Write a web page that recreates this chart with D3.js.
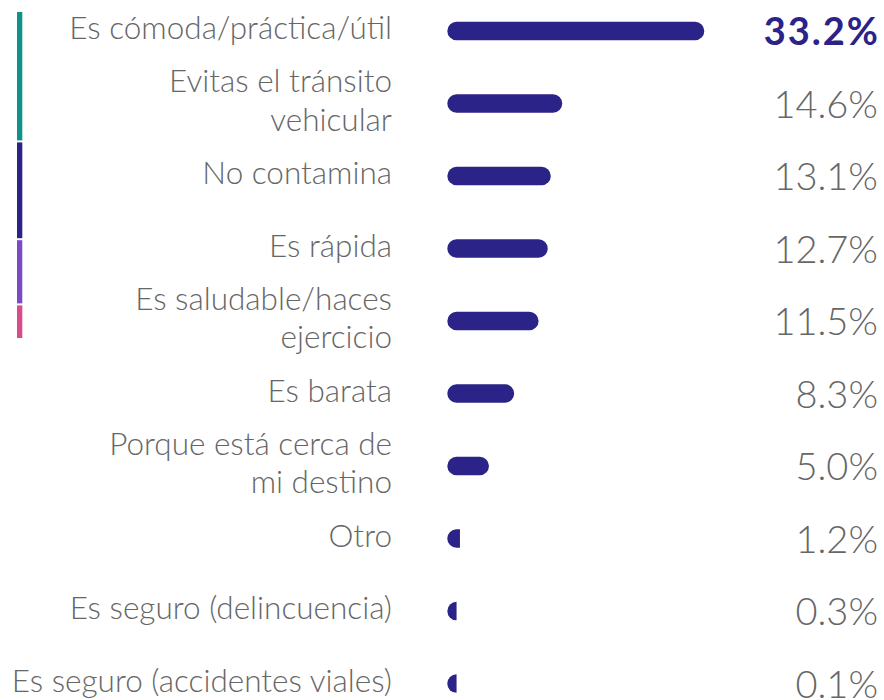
<!DOCTYPE html>
<html>
<head>
<meta charset="utf-8">
<script src="https://cdn.jsdelivr.net/npm/d3@7"></script>
<style>
  html, body { margin: 0; padding: 0; background: #fff; }
  svg { display: block; }
  text { font-family: Lato, "Open Sans", sans-serif; }
  .label { font-weight: 300; fill: #666; font-size: 31.5px; }
  .value { font-weight: 300; fill: #666; font-size: 38px; }
  .value.top { font-weight: 700; fill: #2b2387; letter-spacing: 2px; }
</style>
</head>
<body>
<svg id="chart" width="884" height="700"></svg>
<script>
// categories (multi-line labels split with "|")
var categories = [
  "Es cómoda/práctica/útil",
  "Evitas el tránsito|vehicular",
  "No contamina",
  "Es rápida",
  "Es saludable/haces|ejercicio",
  "Es barata",
  "Porque está cerca de|mi destino",
  "Otro",
  "Es seguro (delincuencia)",
  "Es seguro (accidentes viales)"
];
var values = [33.2, 14.6, 13.1, 12.7, 11.5, 8.3, 5.0, 1.2, 0.3, 0.1];
var valueLabels = ["33.2%", "14.6%", "13.1%", "12.7%", "11.5%", "8.3%", "5.0%", "1.2%", "0.3%", "0.1%"];

// side stripe segments
var stripeWeights = [4, 3, 2, 1];
var stripeColors = ["#0e9486", "#2b2387", "#7b4ac4", "#d94b8b"];

var width = 884, height = 700;
var svg = d3.select("#chart");

var barColor = "#2b2387";
var barH = 18.5;
var barX0 = 447.3;

var y = d3.scalePoint()
    .domain(d3.range(categories.length))
    .range([31, 683.6]);

var x = d3.scaleLinear()
    .domain([0, d3.max(values)])
    .range([barX0 + 3.5, 704.3]);

// stripe on the left
var stripeTotal = d3.sum(stripeWeights);
var ys = d3.scaleLinear().domain([0, stripeTotal]).range([12, 338]);
var cum = 0;
var stripe = stripeWeights.map(function(w, i) {
    var s = {start: cum, end: cum + w, last: i === stripeWeights.length - 1, color: stripeColors[i]};
    cum += w;
    return s;
});
svg.append("g").selectAll("rect")
    .data(stripe)
    .enter()
    .append("rect")
    .attr("x", 17)
    .attr("width", 5.3)
    .attr("y", d => ys(d.start))
    .attr("height", d => ys(d.end) - ys(d.start) - (d.last ? 0 : 2))
    .attr("fill", d => d.color);

// bars: rounded pill, left cap always round
function barPath(v, cy) {
    var r = barH / 2;
    var x1 = x(v);
    var top = cy - r, bot = cy + r;
    var p = d3.path();
    if (x1 - barX0 >= barH) {
        p.moveTo(barX0 + r, top);
        p.lineTo(x1 - r, top);
        p.arc(x1 - r, cy, r, -Math.PI / 2, Math.PI / 2);
        p.lineTo(barX0 + r, bot);
        p.arc(barX0 + r, cy, r, Math.PI / 2, 3 * Math.PI / 2);
    } else {
        var xr = Math.max(x1, barX0 + r);
        p.moveTo(barX0 + r, top);
        p.lineTo(xr, top);
        p.lineTo(xr, bot);
        p.lineTo(barX0 + r, bot);
        p.arc(barX0 + r, cy, r, Math.PI / 2, 3 * Math.PI / 2);
    }
    p.closePath();
    return p.toString();
}

var rows = svg.append("g").selectAll("g.row")
    .data(values)
    .enter()
    .append("g")
    .attr("class", "row");

rows.append("path")
    .attr("d", (d, i) => barPath(d, y(i)))
    .attr("fill", barColor);

// category labels
var lineGap = 38.3;
rows.append("text")
    .attr("class", "label")
    .attr("text-anchor", "end")
    .each(function(d, i) {
        var lines = categories[i].split("|");
        var t = d3.select(this);
        lines.forEach(function(line, k) {
            t.append("tspan")
                .attr("x", 392)
                .attr("y", y(i) + 8 + (k - (lines.length - 1) / 2) * lineGap)
                .text(line);
        });
    });

// value labels
rows.append("text")
    .attr("class", (d, i) => i === 0 ? "value top" : "value")
    .attr("text-anchor", "end")
    .attr("x", (d, i) => i === 0 ? 880 : 878)
    .attr("y", (d, i) => y(i) + 14)
    .text((d, i) => valueLabels[i]);
</script>
</body>
</html>
